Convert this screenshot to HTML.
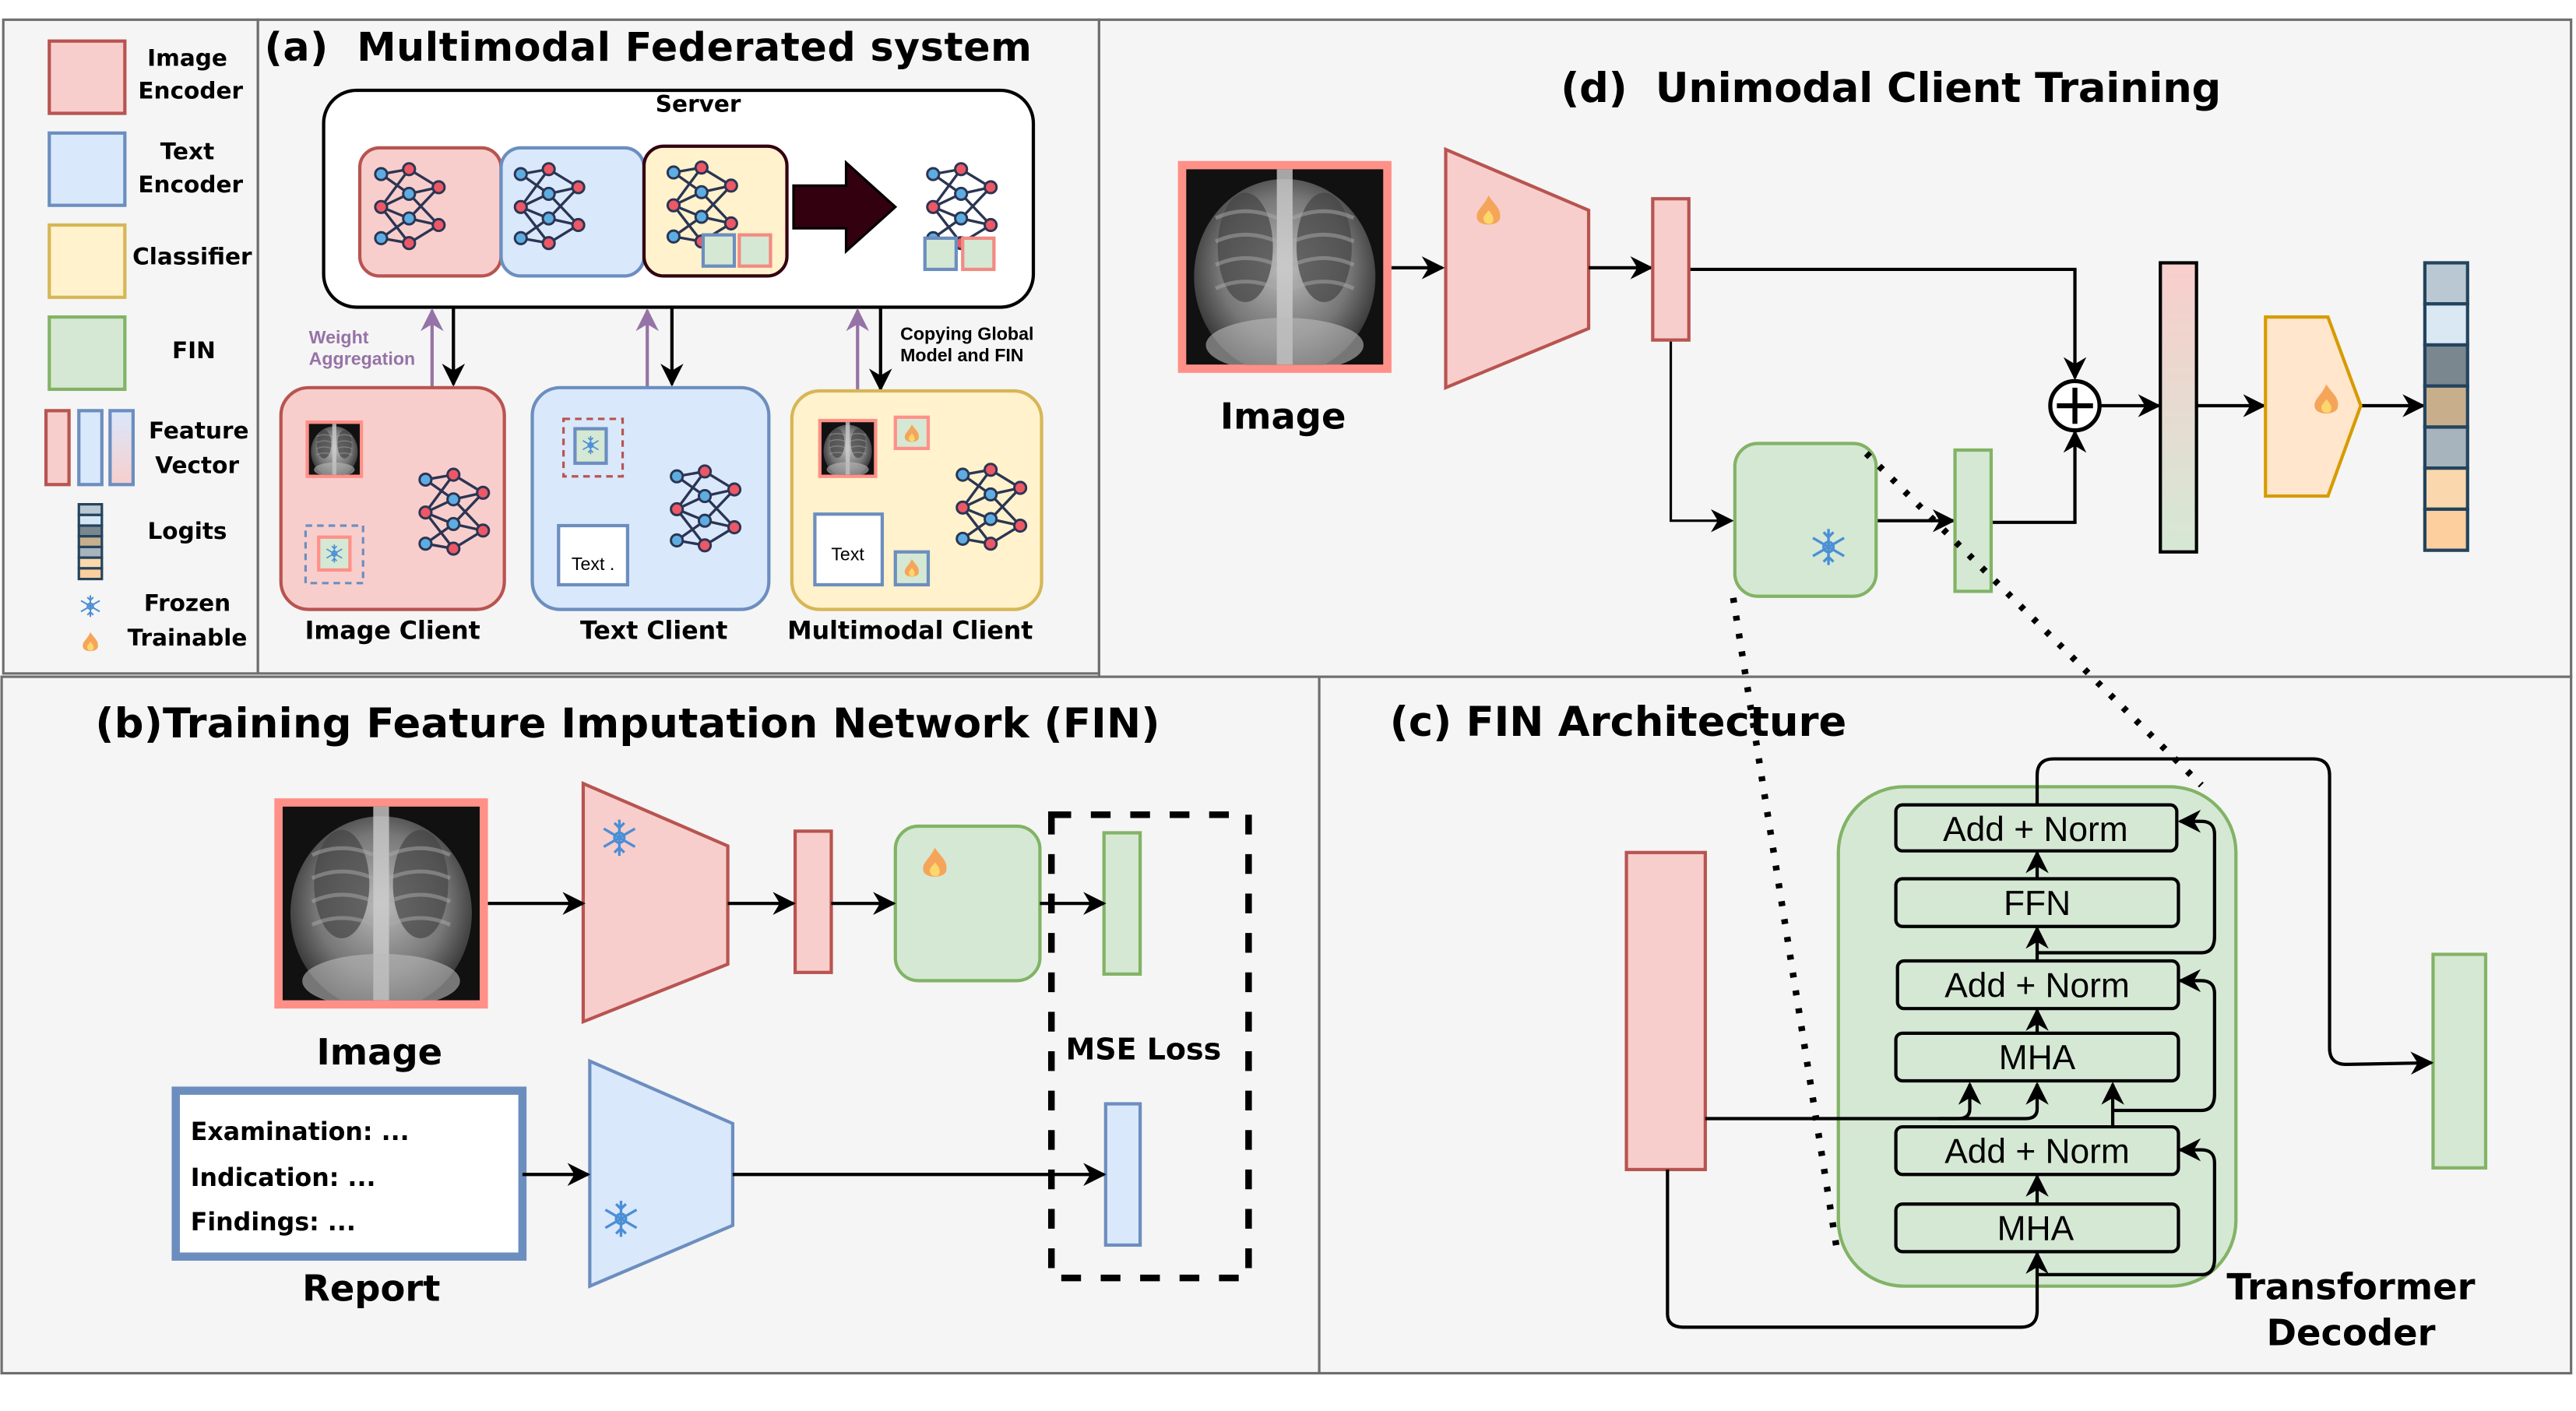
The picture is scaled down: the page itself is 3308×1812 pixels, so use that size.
<!DOCTYPE html>
<html><head><meta charset="utf-8"><style>
html,body{margin:0;padding:0;background:#fff;}
svg{display:block}
.t{font-family:"DejaVu Sans","Liberation Sans",sans-serif;font-weight:bold;fill:#000}
.a{font-family:"Liberation Sans","DejaVu Sans",sans-serif;fill:#000}
</style></head><body>
<svg width="3308" height="1812" viewBox="0 0 1568 859" preserveAspectRatio="none" xmlns="http://www.w3.org/2000/svg">
<defs>
<marker id="ar2" viewBox="0 0 10 10" refX="9" refY="5" markerWidth="14" markerHeight="14" orient="auto" markerUnits="userSpaceOnUse"><path d="M0,0 L10,5 L0,10 L3,5 z" fill="#000"/></marker>
<marker id="ap" viewBox="0 0 10 10" refX="9" refY="5" markerWidth="14" markerHeight="14" orient="auto" markerUnits="userSpaceOnUse"><path d="M0,0 L10,5 L0,10 L3,5 z" fill="#9673a6"/></marker>
<radialGradient id="lung" cx="50%" cy="45%" r="60%"><stop offset="0" stop-color="#bbb"/><stop offset="0.6" stop-color="#777"/><stop offset="1" stop-color="#222"/></radialGradient>
<linearGradient id="fv" x1="0" y1="0" x2="0" y2="1"><stop offset="0" stop-color="#f8cecc"/><stop offset="1" stop-color="#d5e8d4"/></linearGradient>
<linearGradient id="fv2" x1="0" y1="0" x2="0" y2="1"><stop offset="0" stop-color="#dae8fc"/><stop offset="1" stop-color="#f8cecc"/></linearGradient>
<symbol id="xray" viewBox="0 0 100 100" preserveAspectRatio="none">
<rect width="100" height="100" fill="#111"/>
<ellipse cx="50" cy="55" rx="46" ry="50" fill="url(#lung)"/>
<ellipse cx="30" cy="40" rx="14" ry="28" fill="#444" opacity="0.7"/>
<ellipse cx="70" cy="40" rx="14" ry="28" fill="#444" opacity="0.7"/>
<g stroke="#aaa" stroke-width="2" fill="none" opacity="0.5">
<path d="M15,25 Q30,18 46,25 M15,37 Q30,30 46,37 M15,49 Q30,42 46,49 M15,61 Q30,54 46,61"/>
<path d="M85,25 Q70,18 54,25 M85,37 Q70,30 54,37 M85,49 Q70,42 54,49 M85,61 Q70,54 54,61"/>
</g>
<rect x="46" y="0" width="8" height="100" fill="#ccc" opacity="0.8"/>
<ellipse cx="50" cy="90" rx="40" ry="14" fill="#bbb" opacity="0.6"/>
</symbol>
<g id="net">
<g stroke="#2b3553" stroke-width="1.6" fill="none">
<path d="M0,0 L17,-3 M0,0 L17,12 M0,20 L17,-3 M0,20 L17,12 M0,20 L17,27 M0,20 L17,42 M0,39 L17,27 M0,39 L17,42 M17,-3 L35,8 M17,12 L35,8 M17,12 L35,31 M17,27 L35,8 M17,27 L35,31 M17,42 L35,31"/>
</g>
<g stroke="#2b3553" stroke-width="1.4">
<circle cx="0" cy="0" r="3.6" fill="#5dade2"/><circle cx="0" cy="20" r="3.6" fill="#ec5866"/><circle cx="0" cy="39" r="3.6" fill="#5dade2"/>
<circle cx="17" cy="-3" r="3.6" fill="#ec5866"/><circle cx="17" cy="12" r="3.6" fill="#5dade2"/><circle cx="17" cy="27" r="3.6" fill="#5dade2"/><circle cx="17" cy="42" r="3.6" fill="#ec5866"/>
<circle cx="35" cy="8" r="3.6" fill="#ec5866"/><circle cx="35" cy="31" r="3.6" fill="#ec5866"/>
</g>
</g>
<g id="flame"><path d="M0,-11 C4,-5 8,-3 7,3 C6,8 -6,8 -7,3 C-8,-2 -3,-4 0,-11z" fill="#f5a55a"/><path d="M0,-2 C3,1 4,4 2,6 C0,7 -3,6 -3,3 C-3,1 -1,0 0,-2z" fill="#fcd76b"/></g>
<g id="snow" stroke="#4a8fd6" stroke-width="1.6" fill="none"><path d="M0,-11 V11 M-9.5,-5.5 L9.5,5.5 M-9.5,5.5 L9.5,-5.5 M-3,-9 L0,-6 L3,-9 M-3,9 L0,6 L3,9"/><circle r="3"/></g>
</defs>

<rect x="0" y="0" width="1568" height="859" fill="#fff"/>
<rect x="2" y="12" width="155" height="398" fill="#f5f5f5" stroke="#6e6e6e" stroke-width="1.5"/>
<rect x="157" y="12" width="512" height="398" fill="#f5f5f5" stroke="#6e6e6e" stroke-width="1.5"/>
<rect x="669" y="12" width="896" height="400" fill="#f5f5f5" stroke="#6e6e6e" stroke-width="1.5"/>
<rect x="1" y="412" width="802" height="424" fill="#f5f5f5" stroke="#6e6e6e" stroke-width="1.5"/>
<rect x="803" y="412" width="762" height="424" fill="#f5f5f5" stroke="#6e6e6e" stroke-width="1.5"/>

<!-- legend -->
<rect x="30" y="25" width="46" height="44" fill="#f8cecc" stroke="#b85450" stroke-width="2"/>
<text class="t" x="114" y="40" font-size="14" text-anchor="middle">Image</text>
<text class="t" x="116" y="60" font-size="14" text-anchor="middle">Encoder</text>
<rect x="30" y="81" width="46" height="44" fill="#dae8fc" stroke="#6c8ebf" stroke-width="2"/>
<text class="t" x="114" y="97" font-size="14" text-anchor="middle">Text</text>
<text class="t" x="116" y="117" font-size="14" text-anchor="middle">Encoder</text>
<rect x="30" y="137" width="46" height="44" fill="#fff2cc" stroke="#d6b656" stroke-width="2"/>
<text class="t" x="117" y="161" font-size="14" text-anchor="middle">Classifier</text>
<rect x="30" y="193" width="46" height="44" fill="#d5e8d4" stroke="#82b366" stroke-width="2"/>
<text class="t" x="118" y="218" font-size="14" text-anchor="middle">FIN</text>
<rect x="28" y="250" width="14" height="45" fill="#f8cecc" stroke="#b85450" stroke-width="2"/>
<rect x="48" y="250" width="14" height="45" fill="#dae8fc" stroke="#6c8ebf" stroke-width="2"/>
<rect x="67" y="250" width="14" height="45" fill="url(#fv2)" stroke="#6c8ebf" stroke-width="2"/>
<text class="t" x="121" y="267" font-size="14" text-anchor="middle">Feature</text>
<text class="t" x="120" y="288" font-size="14" text-anchor="middle">Vector</text>
<g stroke="#23445d" stroke-width="1.5">
<rect x="48" y="307" width="14" height="6.5" fill="#bac8d3"/><rect x="48" y="313.5" width="14" height="6.5" fill="#d4e5f5"/><rect x="48" y="320" width="14" height="6.5" fill="#7a878f"/><rect x="48" y="326.5" width="14" height="6.5" fill="#c9ae8c"/><rect x="48" y="333" width="14" height="6.5" fill="#a7b3bd"/><rect x="48" y="339.5" width="14" height="6.5" fill="#fad7ac"/><rect x="48" y="346" width="14" height="6.5" fill="#fdce9e"/>
</g>
<text class="t" x="114" y="328" font-size="14" text-anchor="middle">Logits</text>
<use href="#snow" transform="translate(55,369) scale(0.6)"/>
<use href="#flame" transform="translate(55,392) scale(0.65)"/>
<text class="t" x="114" y="372" font-size="14" text-anchor="middle">Frozen</text>
<text class="t" x="114" y="393" font-size="14" text-anchor="middle">Trainable</text>

<!-- panel a -->
<text class="t" x="161" y="37" font-size="24" textLength="467" lengthAdjust="spacing" xml:space="preserve">(a)  Multimodal Federated system</text>
<rect x="197" y="55" width="432" height="132" rx="20" fill="#fff" stroke="#000" stroke-width="2"/>
<text class="t" x="425" y="68" font-size="14" text-anchor="middle">Server</text>
<rect x="219" y="90" width="86" height="78" rx="12" fill="#f8cecc" stroke="#b85450" stroke-width="2"/>
<rect x="305" y="90" width="87" height="78" rx="12" fill="#dae8fc" stroke="#6c8ebf" stroke-width="2"/>
<rect x="392" y="89" width="87" height="79" rx="12" fill="#fff2cc" stroke="#33000f" stroke-width="2"/>
<use href="#net" transform="translate(232,106)"/>
<use href="#net" transform="translate(317,106)"/>
<use href="#net" transform="translate(410,105)"/>
<rect x="428" y="143" width="19" height="19" fill="#d5e8d4" stroke="#6c8ebf" stroke-width="2"/>
<rect x="450" y="143" width="19" height="19" fill="#d5e8d4" stroke="#f28b82" stroke-width="2"/>
<path d="M483,113 H515 V99 L545,126 L515,153 V139 H483z" fill="#33000f" stroke="#000" stroke-width="1.5"/>
<use href="#net" transform="translate(568,106)"/>
<rect x="563" y="145" width="19" height="19" fill="#d5e8d4" stroke="#6c8ebf" stroke-width="2"/>
<rect x="586" y="145" width="19" height="19" fill="#d5e8d4" stroke="#f28b82" stroke-width="2"/>

<g stroke="#000" stroke-width="2" fill="none">
<path d="M276,187 V234" marker-end="url(#ar2)"/>
<path d="M409,187 V234" marker-end="url(#ar2)"/>
<path d="M536,187 V237" marker-end="url(#ar2)"/>
</g>
<g stroke="#9673a6" stroke-width="2" fill="none">
<path d="M263,236 V189" marker-end="url(#ap)"/>
<path d="M394,236 V189" marker-end="url(#ap)"/>
<path d="M522,238 V189" marker-end="url(#ap)"/>
</g>
<text x="188" y="209" font-size="11" font-family="Liberation Sans,sans-serif" font-weight="bold" fill="#9673a6">Weight</text>
<text x="188" y="222" font-size="11" font-family="Liberation Sans,sans-serif" font-weight="bold" fill="#9673a6">Aggregation</text>
<text x="548" y="207" font-size="11" font-family="Liberation Sans,sans-serif" font-weight="bold">Copying Global</text>
<text x="548" y="220" font-size="11" font-family="Liberation Sans,sans-serif" font-weight="bold">Model and FIN</text>

<rect x="171" y="236" width="136" height="135" rx="17" fill="#f8cecc" stroke="#b85450" stroke-width="2"/>
<rect x="186" y="256" width="35" height="35" fill="#ff9088"/><use href="#xray" x="188" y="258" width="31" height="31"/>
<use href="#net" transform="translate(259,292)"/>
<rect x="186" y="320" width="35" height="35" fill="none" stroke="#6c8ebf" stroke-width="1.5" stroke-dasharray="4,3"/>
<rect x="194" y="327" width="19" height="20" fill="#d5e8d4" stroke="#ff9088" stroke-width="2"/>
<use href="#snow" transform="translate(203.5,337) scale(0.5)"/>
<text class="t" x="239" y="389" font-size="15" text-anchor="middle">Image Client</text>

<rect x="324" y="236" width="144" height="135" rx="17" fill="#dae8fc" stroke="#6c8ebf" stroke-width="2"/>
<rect x="343" y="255" width="36" height="35" fill="none" stroke="#b85450" stroke-width="1.5" stroke-dasharray="4,3"/>
<rect x="350" y="261" width="19" height="21" fill="#d5e8d4" stroke="#6c8ebf" stroke-width="2"/>
<use href="#snow" transform="translate(359.5,271) scale(0.5)"/>
<use href="#net" transform="translate(412,290)"/>
<rect x="340" y="320" width="42" height="36" fill="#fff" stroke="#6c8ebf" stroke-width="2"/>
<text class="a" x="361" y="347" font-size="11" text-anchor="middle">Text .</text>
<text class="t" x="398" y="389" font-size="15" text-anchor="middle">Text Client</text>

<rect x="482" y="238" width="152" height="133" rx="17" fill="#fff2cc" stroke="#d6b656" stroke-width="2"/>
<rect x="498" y="255" width="36" height="36" fill="#ff9088"/><use href="#xray" x="500" y="257" width="32" height="32"/>
<rect x="545" y="254" width="20" height="19" fill="#d5e8d4" stroke="#ff9088" stroke-width="2"/>
<use href="#flame" transform="translate(555,265) scale(0.6)"/>
<use href="#net" transform="translate(586,289)"/>
<rect x="496" y="313" width="41" height="43" fill="#fff" stroke="#6c8ebf" stroke-width="2"/>
<text class="a" x="516" y="341" font-size="11" text-anchor="middle">Text</text>
<rect x="545" y="336" width="20" height="20" fill="#d5e8d4" stroke="#6c8ebf" stroke-width="2"/>
<use href="#flame" transform="translate(555,347) scale(0.6)"/>
<text class="t" x="554" y="389" font-size="15" text-anchor="middle">Multimodal Client</text>

<!-- panel d -->
<text class="t" x="950" y="62" font-size="25" textLength="402" lengthAdjust="spacing" xml:space="preserve">(d)  Unimodal Client Training</text>
<rect x="717" y="98" width="130" height="129" fill="#ff9088"/><use href="#xray" x="722" y="103" width="120" height="119"/>
<text class="t" x="781" y="261" font-size="22" text-anchor="middle">Image</text>
<polygon points="880,91 967,128 967,200 880,236" fill="#f8cecc" stroke="#b85450" stroke-width="2"/>
<use href="#flame" transform="translate(906,130) scale(1)"/>
<g stroke="#000" stroke-width="2" fill="none">
<path d="M847,163 H878" marker-end="url(#ar2)"/>
<path d="M967,163 H1005" marker-end="url(#ar2)"/>
<path d="M1028,164 H1263 V230" marker-end="url(#ar2)"/>
<path d="M1017,207 V317 H1054" stroke-width="1.5" marker-end="url(#ar2)"/>
<path d="M1142,317 H1189" marker-end="url(#ar2)"/>
<path d="M1212,318 H1263 V263" marker-end="url(#ar2)"/>
<path d="M1279,247 H1314" marker-end="url(#ar2)"/>
<path d="M1337,247 H1378" marker-end="url(#ar2)"/>
<path d="M1437,247 H1475" marker-end="url(#ar2)"/>
</g>
<rect x="1006" y="121" width="22" height="86" fill="#f8cecc" stroke="#b85450" stroke-width="2"/>
<rect x="1056" y="270" width="86" height="93" rx="14" fill="#d5e8d4" stroke="#82b366" stroke-width="2"/>
<use href="#snow" transform="translate(1113,333)"/>
<rect x="1190" y="274" width="22" height="86" fill="#d5e8d4" stroke="#82b366" stroke-width="2"/>
<circle cx="1263" cy="247" r="15" fill="#fff" stroke="#000" stroke-width="2.5"/>
<path d="M1263,236 V258 M1252,247 H1274" stroke="#000" stroke-width="3"/>
<rect x="1315" y="160" width="22" height="176" fill="url(#fv)" stroke="#000" stroke-width="2"/>
<polygon points="1379,193 1417,193 1437,247 1417,302 1379,302" fill="#ffe6cc" stroke="#d79b00" stroke-width="2"/>
<use href="#flame" transform="translate(1416,245) scale(1)"/>
<g stroke="#23445d" stroke-width="2">
<rect x="1476" y="160" width="26" height="25" fill="#bac8d3"/><rect x="1476" y="185" width="26" height="25" fill="#dae8f4"/><rect x="1476" y="210" width="26" height="25" fill="#7a878f"/><rect x="1476" y="235" width="26" height="25" fill="#c9ae8c"/><rect x="1476" y="260" width="26" height="25" fill="#a7b3bd"/><rect x="1476" y="285" width="26" height="25" fill="#fad7ac"/><rect x="1476" y="310" width="26" height="25" fill="#fdce9e"/>
</g>
<g stroke="#000" stroke-width="4" stroke-dasharray="3,8" fill="none">
<path d="M1136,276 L1340,478"/>
<path d="M1055,364 L1118,760"/>
</g>

<!-- panel b -->
<text class="t" x="58" y="449" font-size="25" textLength="648" lengthAdjust="spacing">(b)Training Feature Imputation Network (FIN)</text>
<rect x="167" y="486" width="130" height="128" fill="#ff9088"/><use href="#xray" x="172" y="491" width="120" height="118"/>
<text class="t" x="231" y="648" font-size="22" text-anchor="middle">Image</text>
<polygon points="355,477 443,515 443,587 355,622" fill="#f8cecc" stroke="#b85450" stroke-width="2"/>
<use href="#snow" transform="translate(377,510)"/>
<rect x="484" y="506" width="22" height="86" fill="#f8cecc" stroke="#b85450" stroke-width="2"/>
<rect x="545" y="503" width="88" height="94" rx="14" fill="#d5e8d4" stroke="#82b366" stroke-width="2"/>
<use href="#flame" transform="translate(569,527)"/>
<rect x="672" y="507" width="22" height="86" fill="#d5e8d4" stroke="#82b366" stroke-width="2"/>
<rect x="640" y="496" width="120" height="282" fill="none" stroke="#000" stroke-width="4" stroke-dasharray="12,12"/>
<text class="t" x="696" y="645" font-size="18" text-anchor="middle">MSE Loss</text>
<rect x="107" y="664" width="211" height="101" fill="#fff" stroke="#6c8ebf" stroke-width="5"/>
<text class="t" x="116" y="694" font-size="15" fill="#333">Examination: ...</text>
<text class="t" x="116" y="722" font-size="15" fill="#333">Indication: ...</text>
<text class="t" x="116" y="749" font-size="15" fill="#333">Findings: ...</text>
<text class="t" x="226" y="792" font-size="22" text-anchor="middle">Report</text>
<polygon points="359,646 446,684 446,746 359,783" fill="#dae8fc" stroke="#6c8ebf" stroke-width="2"/>
<use href="#snow" transform="translate(378,742)"/>
<rect x="673" y="672" width="21" height="86" fill="#dae8fc" stroke="#6c8ebf" stroke-width="2"/>
<g stroke="#000" stroke-width="2" fill="none">
<path d="M297,550 H355" marker-end="url(#ar2)"/>
<path d="M443,550 H483" marker-end="url(#ar2)"/>
<path d="M506,550 H544" marker-end="url(#ar2)"/>
<path d="M633,550 H672" marker-end="url(#ar2)"/>
<path d="M318,715 H358" marker-end="url(#ar2)"/>
<path d="M446,715 H672" marker-end="url(#ar2)"/>
</g>

<!-- panel c -->
<text class="t" x="846" y="448" font-size="25" textLength="278" lengthAdjust="spacing">(c) FIN Architecture</text>
<rect x="990" y="519" width="48" height="193" fill="#f8cecc" stroke="#b85450" stroke-width="2"/>
<rect x="1481" y="581" width="32" height="130" fill="#d5e8d4" stroke="#82b366" stroke-width="2"/>
<rect x="1119" y="479" width="242" height="304" rx="40" fill="#d5e8d4" stroke="#82b366" stroke-width="2"/>
<g fill="#d5e8d4" stroke="#000" stroke-width="2">
<rect x="1154" y="490" width="171" height="28" rx="4"/>
<rect x="1154" y="535" width="172" height="29" rx="4"/>
<rect x="1155" y="585" width="171" height="29" rx="4"/>
<rect x="1154" y="629" width="172" height="29" rx="4"/>
<rect x="1154" y="686" width="172" height="29" rx="4"/>
<rect x="1154" y="733" width="172" height="29" rx="4"/>
</g>
<g class="a" font-size="21" text-anchor="middle">
<text x="1239" y="512">Add + Norm</text>
<text x="1240" y="557">FFN</text>
<text x="1240" y="607">Add + Norm</text>
<text x="1240" y="651">MHA</text>
<text x="1240" y="708">Add + Norm</text>
<text x="1239" y="755">MHA</text>
</g>
<g stroke="#000" stroke-width="2" fill="none">
<path d="M1240,535 V519" marker-end="url(#ar2)"/>
<path d="M1240,585 V565" marker-end="url(#ar2)"/>
<path d="M1240,629 V615" marker-end="url(#ar2)"/>
<path d="M1240,733 V716" marker-end="url(#ar2)"/>
<path d="M1240,580 H1340 Q1348,580 1348,570 V508 Q1348,500 1340,500 H1327" marker-end="url(#ar2)"/>
<path d="M1286,686 V660" marker-end="url(#ar2)"/>
<path d="M1286,676 H1340 Q1348,676 1348,666 V605 Q1348,597 1340,597 H1327" marker-end="url(#ar2)"/>
<path d="M1038,681 H1192 Q1199,681 1199,675 V660" marker-end="url(#ar2)"/>
<path d="M1180,681 H1233 Q1240,681 1240,675 V660" marker-end="url(#ar2)"/>
<path d="M1015,712 V800 Q1015,808 1025,808 H1230 Q1240,808 1240,798 V763" marker-end="url(#ar2)"/>
<path d="M1240,776 H1340 Q1348,776 1348,766 V708 Q1348,700 1340,700 H1327" marker-end="url(#ar2)"/>
<path d="M1240,490 V472 Q1240,462 1250,462 H1408 Q1418,462 1418,472 V638 Q1418,648 1428,648 L1480,647" marker-end="url(#ar2)"/>
</g>
<text class="t" x="1431" y="791" font-size="22" text-anchor="middle">Transformer</text>
<text class="t" x="1431" y="819" font-size="22" text-anchor="middle">Decoder</text>
</svg>
</body></html>
